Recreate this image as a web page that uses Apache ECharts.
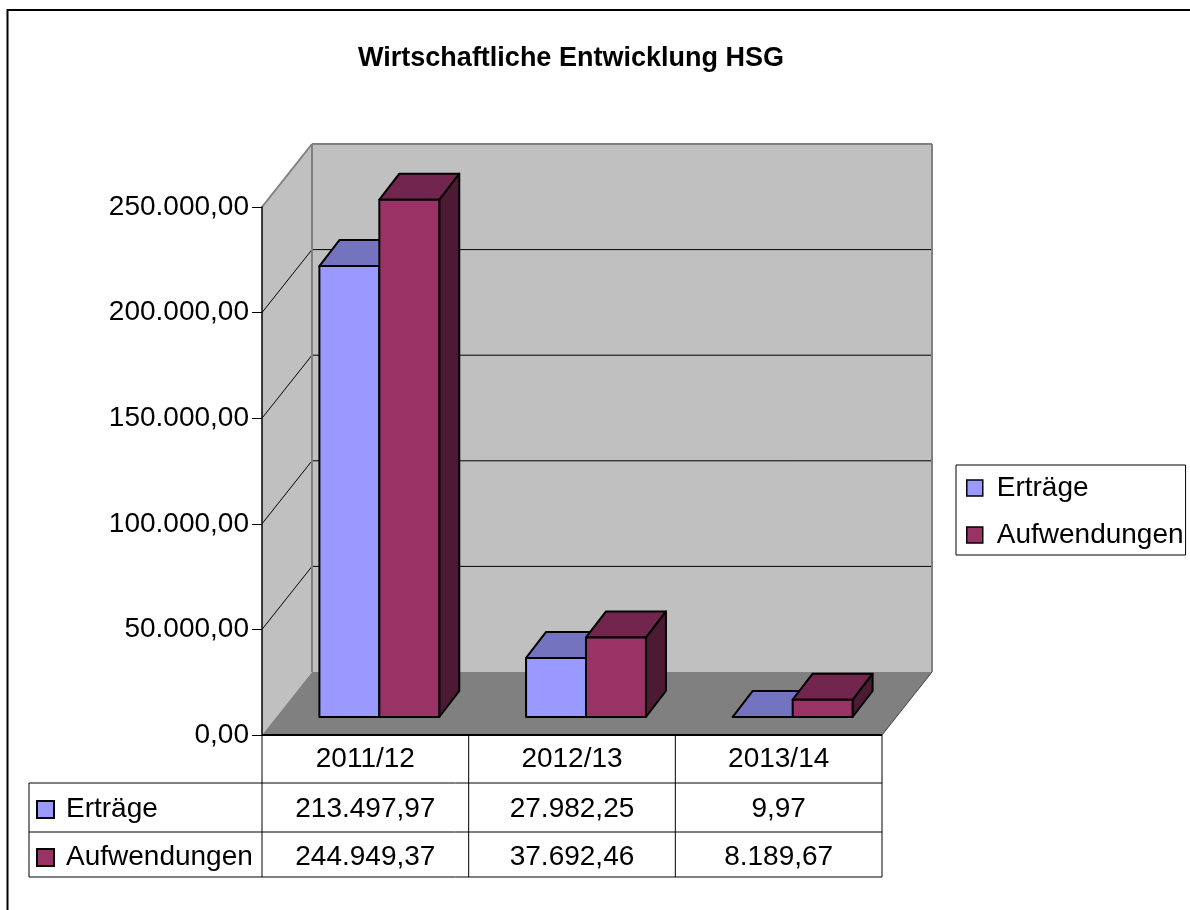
<!DOCTYPE html>
<html>
<head>
<meta charset="utf-8">
<title>Wirtschaftliche Entwicklung HSG</title>
<script src="https://cdn.jsdelivr.net/npm/echarts@6/dist/echarts.min.js"></script>
<style>
  html, body { margin: 0; padding: 0; background: #fff; }
  #chart { width: 1190px; height: 910px; }
</style>
</head>
<body>
<div id="chart"></div>
<script>
// Daten
const categories = ['2011/12', '2012/13', '2013/14'];
const seriesNames = ['Erträge', 'Aufwendungen'];
const ertraege = [213497.97, 27982.25, 9.97];
const aufwendungen = [244949.37, 37692.46, 8189.67];
const yTicks = [0, 50000, 100000, 150000, 200000, 250000];

// Darstellung
const FONT = "'Liberation Sans', Arial, sans-serif";
const DEPTH = [50, -63];      // Tiefe der Wand
const BAR_FRONT = [14, -18];  // Vorderseite der Säulen
const BAR_DEPTH = [20, -26];  // Tiefe der Säulen
const BAR_RATIO = 0.29;
const ROW_Y = [24, 74, 122];  // Zeilenmitte der Tabelle ab Achse
const ROW_LINES = [48, 97, 142];
const TABLE_LEFT = 29;

const colors = [
  { front: '#9999ff', top: '#7373bf', side: '#4d4d80' },
  { front: '#993366', top: '#73264d', side: '#4d1a33' }
];

// 1234567.8 -> 1.234.567,80
function de(v) {
  const parts = v.toFixed(2).split('.');
  const int = parts[0].replace(/\B(?=(\d{3})+(?!\d))/g, '.');
  return int + ',' + parts[1];
}

function txt(text, x, y, align, size, weight) {
  return {
    type: 'text',
    style: {
      text: text, x: x, y: y,
      fill: '#000',
      font: (weight || 'normal') + ' ' + size + 'px ' + FONT,
      align: align, textAlign: align,
      verticalAlign: 'middle', textVerticalAlign: 'middle'
    }
  };
}

function line(x1, y1, x2, y2, color, w) {
  return {
    type: 'line',
    shape: { x1: x1, y1: y1, x2: x2, y2: y2 },
    style: { stroke: color, lineWidth: w || 1 }
  };
}

// Wände, Boden und Tabellengitter
function renderFrame(params, api) {
  const cs = params.coordSys;
  const x0 = cs.x, x1 = cs.x + cs.width;
  const yTop = cs.y, yBot = cs.y + cs.height;
  const dx = DEPTH[0], dy = DEPTH[1];
  const ch = [];
  ch.push({ type: 'polygon', shape: { points: [[x0, yTop], [x0 + dx, yTop + dy], [x0 + dx, yBot + dy], [x0, yBot]] },
    style: { fill: '#c0c0c0' } });
  ch.push({ type: 'rect', shape: { x: x0 + dx, y: yTop + dy, width: cs.width, height: cs.height },
    style: { fill: '#c0c0c0' } });
  yTicks.forEach(function (t) {
    if (t === yTicks[0] || t === yTicks[yTicks.length - 1]) return;
    const y = api.coord([0, t])[1];
    ch.push(line(x0, y, x0 + dx, y + dy, '#000', 1));
    ch.push(line(x0 + dx, y + dy, x1 + dx, y + dy, '#000', 1));
  });
  ch.push(line(x0, yTop, x0 + dx, yTop + dy, '#808080', 2));
  ch.push(line(x0 + dx, yTop + dy, x1 + dx, yTop + dy, '#808080', 2));
  ch.push(line(x0 + dx, yTop + dy, x0 + dx, yBot + dy, '#808080', 2));
  ch.push(line(x1 + dx, yTop + dy, x1 + dx, yBot + dy, '#808080', 2));
  // Boden
  ch.push({ type: 'polygon', shape: { points: [[x0, yBot], [x0 + dx, yBot + dy], [x1 + dx, yBot + dy], [x1, yBot]] },
    style: { fill: '#808080' } });
  ch.push(line(x1, yBot, x1 + dx, yBot + dy, '#404040', 1));

  // Tabelle
  const band = cs.width / categories.length;
  ch.push(line(x0, yBot, x1, yBot, '#000', 2));
  ROW_LINES.forEach(function (r) {
    ch.push(line(TABLE_LEFT, yBot + r, x1, yBot + r, '#000', 1));
  });
  ch.push(line(TABLE_LEFT, yBot + ROW_LINES[0], TABLE_LEFT, yBot + ROW_LINES[2], '#000', 1));
  for (let k = 0; k <= categories.length; k++) {
    const x = x0 + k * band;
    ch.push(line(x, yBot, x, yBot + ROW_LINES[2], '#000', 1));
  }
  seriesNames.forEach(function (name, i) {
    const cy = yBot + ROW_Y[i + 1];
    ch.push({ type: 'rect', shape: { x: 37, y: cy - 8, width: 17, height: 17 },
      style: { fill: colors[i].front, stroke: '#000', lineWidth: 2 } });
    ch.push(txt(name, 66, cy, 'left', 28));
  });
  return { type: 'group', children: ch };
}

// 3D-Säule + Tabellenwert
function renderBar(k) {
  const col = colors[k];
  return function (params, api) {
    const idx = api.value(0), val = api.value(1);
    const base = api.coord([idx, 0]);
    const top = api.coord([idx, val]);
    const w = api.size([1, 0])[0] * BAR_RATIO;
    const xl = base[0] + BAR_FRONT[0] + (k - 1) * w;
    const xr = xl + w;
    const yb = base[1] + BAR_FRONT[1];
    const yt = top[1] + BAR_FRONT[1];
    const ddx = BAR_DEPTH[0], ddy = BAR_DEPTH[1];
    const edge = { stroke: '#000', lineWidth: 2, lineJoin: 'round' };
    const yBot = params.coordSys.y + params.coordSys.height;
    return {
      type: 'group',
      children: [
        { type: 'polygon', shape: { points: [[xr, yt], [xr + ddx, yt + ddy], [xr + ddx, yb + ddy], [xr, yb]] },
          style: Object.assign({ fill: col.side }, edge) },
        { type: 'polygon', shape: { points: [[xl, yt], [xl + ddx, yt + ddy], [xr + ddx, yt + ddy], [xr, yt]] },
          style: Object.assign({ fill: col.top }, edge) },
        { type: 'polygon', shape: { points: [[xl, yt], [xr, yt], [xr, yb], [xl, yb]] },
          style: Object.assign({ fill: col.front }, edge) },
        txt(de(val), base[0], yBot + ROW_Y[k + 1], 'center', 28)
      ]
    };
  };
}

const chart = echarts.init(document.getElementById('chart'));
chart.setOption({
  animation: false,
  backgroundColor: '#fff',
  title: {
    text: 'Wirtschaftliche Entwicklung HSG',
    left: 566,
    textAlign: 'center',
    top: 40,
    textStyle: { fontSize: 27, fontWeight: 'bold', color: '#000', fontFamily: FONT }
  },
  legend: {
    orient: 'vertical',
    left: 956,
    top: 465,
    data: seriesNames,
    icon: 'rect',
    itemWidth: 16,
    itemHeight: 16,
    itemGap: 17,
    padding: [8, 2, 5, 10],
    borderColor: '#000',
    borderWidth: 1,
    itemStyle: { borderColor: '#000', borderWidth: 1.5 },
    textStyle: { fontSize: 28, color: '#000', fontFamily: FONT, lineHeight: 30, padding: [0, 0, 0, 9] }
  },
  grid: { left: 262, top: 207, width: 620, height: 528 },
  xAxis: {
    type: 'category',
    data: categories,
    axisLine: { show: false },
    axisTick: { show: false },
    axisLabel: { fontSize: 28, color: '#000', fontFamily: FONT, margin: 10 },
    splitLine: { show: false }
  },
  yAxis: {
    type: 'value',
    min: yTicks[0],
    max: yTicks[yTicks.length - 1],
    interval: yTicks[1] - yTicks[0],
    z: 10,
    axisLine: { show: true, lineStyle: { color: '#000', width: 1.5 } },
    axisTick: { show: true, length: 10, lineStyle: { color: '#000', width: 1 } },
    axisLabel: { fontSize: 28, color: '#000', fontFamily: FONT, margin: 13, formatter: de },
    splitLine: { show: false }
  },
  graphic: [{
    type: 'rect',
    shape: { x: 7.5, y: 10, width: 1300, height: 1000 },
    style: { fill: null, stroke: '#000', lineWidth: 2 },
    silent: true
  }],
  series: [
    { type: 'custom', name: 'rahmen', silent: true, z: 1, renderItem: renderFrame, data: [[0, 0]] },
    { type: 'custom', name: seriesNames[0], z: 2, renderItem: renderBar(0),
      itemStyle: { color: colors[0].front },
      data: ertraege.map(function (v, i) { return [i, v]; }) },
    { type: 'custom', name: seriesNames[1], z: 3, renderItem: renderBar(1),
      itemStyle: { color: colors[1].front },
      data: aufwendungen.map(function (v, i) { return [i, v]; }) }
  ]
});
</script>
</body>
</html>
